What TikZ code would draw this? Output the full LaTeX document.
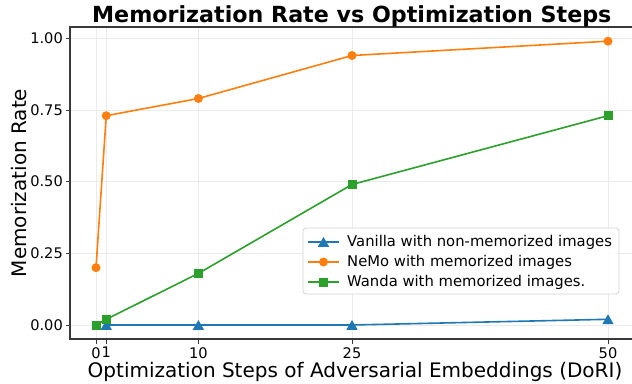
\documentclass[tikz,border=0pt]{standalone}
\usepackage{fontspec}
\setmainfont{DejaVu Sans}
\usetikzlibrary{shapes.geometric}
\definecolor{tabblue}{HTML}{1F77B4}
\definecolor{taborange}{HTML}{FF7F0E}
\definecolor{tabgreen}{HTML}{2CA02C}
\definecolor{gridgray}{HTML}{EBEBEB}
\definecolor{spinegray}{HTML}{3A3A3A}
\begin{document}
\begin{tikzpicture}[x=1pt,y=-1pt,
  ticklbl/.style={font=\fontsize{14.6}{17}\selectfont, inner sep=0pt},
  gridline/.style={draw=gridgray, line width=0.8pt},
  spine/.style={draw=spinegray, line width=1.1pt},
  series/.style={line width=1.6pt},
  mtri/.style={regular polygon, regular polygon sides=3, minimum size=13pt, inner sep=0pt, fill=tabblue},
  mcirc/.style={circle, minimum size=9pt, inner sep=0pt, fill=taborange},
  msq/.style={rectangle, minimum size=9pt, inner sep=0pt, fill=tabgreen},
  legtext/.style={font=\fontsize{14.8}{17}\selectfont, anchor=west, inner sep=0pt}
]
\useasboundingbox (0,0) rectangle (632,383);
\fill[white] (0,0) rectangle (632,383);
% grid
\foreach \d in {0,1,10,25,50} { \draw[gridline] ({96+10.24*\d},27) -- ({96+10.24*\d},339); }
\foreach \v in {0,0.25,0.5,0.75,1} { \draw[gridline] (70,{325-286.7*\v}) -- (634,{325-286.7*\v}); }
% spines
\draw[spine] (634,27) -- (70,27) -- (70,339) -- (634,339);
% x ticks
\foreach \d/\l in {0/0,1/1,10/10,25/25,50/50} {
  \draw[spine, line width=0.9pt] ({96+10.24*\d},339) -- ({96+10.24*\d},343.5);
  \node[ticklbl, anchor=north] (xt\l) at ({96+10.24*\d},347) {\l};
}
% y ticks
\foreach \v/\l [count=\i] in {0/0.00,0.25/0.25,0.5/0.50,0.75/0.75,1/1.00} {
  \draw[spine, line width=0.9pt] (70,{325-286.7*\v}) -- (65.5,{325-286.7*\v});
  \node[ticklbl, anchor=east] (yt\i) at (63,{325-286.7*\v}) {\l};
}
% series: Vanilla
\coordinate (b1) at (106.24,325);
\coordinate (b2) at (198.4,325);
\coordinate (b3) at (352,325);
\coordinate (b4) at (608,319.3);
\draw[series, tabblue] (b1) -- (b2) -- (b3) -- (b4);
\foreach \p in {b1,b2,b3,b4} { \node[mtri] at ([yshift=-1.5pt]\p) {}; }
% NeMo
\coordinate (o0) at (96,267.7);
\coordinate (o1) at (106.24,115.7);
\coordinate (o2) at (198.4,98.5);
\coordinate (o3) at (352,55.5);
\coordinate (o4) at (608,41.2);
\draw[series, taborange] (o0) -- (o1) -- (o2) -- (o3) -- (o4);
\foreach \p in {o0,o1,o2,o3,o4} { \node[mcirc] at (\p) {}; }
% Wanda
\coordinate (g0) at (96,325);
\coordinate (g1) at (106.24,319.3);
\coordinate (g2) at (198.4,273.4);
\coordinate (g3) at (352,184.5);
\coordinate (g4) at (608,115.7);
\draw[series, tabgreen] (g0) -- (g1) -- (g2) -- (g3) -- (g4);
\foreach \p in {g0,g1,g2,g3,g4} { \node[msq] at (\p) {}; }
% legend
\draw[draw=gray!35, fill=white, fill opacity=0.85, rounded corners=3pt, line width=0.8pt] (303,228) rectangle (619,294);
\coordinate (l1a) at (308,242); \coordinate (l1b) at (339,242);
\coordinate (l2a) at (308,262); \coordinate (l2b) at (339,262);
\coordinate (l3a) at (308,282); \coordinate (l3b) at (339,282);
\draw[series, tabblue] (l1a) -- (l1b);
\node[mtri] at ([yshift=-1.5pt]323.5,242) {};
\draw[series, taborange] (l2a) -- (l2b);
\node[mcirc] at (323.5,262) {};
\draw[series, tabgreen] (l3a) -- (l3b);
\node[msq] at (323.5,282) {};
\node[legtext] (lt1) at (347,242) {Vanilla with non-memorized images};
\node[legtext] (lt2) at (347,262) {NeMo with memorized images};
\node[legtext] (lt3) at (347,282) {Wanda with memorized images.};
% labels
\node[font=\fontsize{22.2}{26}\bfseries, anchor=base, inner sep=0pt] (title) at (351.8,22) {Memorization Rate vs Optimization Steps};
\node[font=\fontsize{20}{24}\selectfont, anchor=base, inner sep=0pt] (xlabel) at (355,377) {Optimization Steps of Adversarial Embeddings (DoRI)};
\node[font=\fontsize{20}{24}\selectfont, anchor=base, rotate=90, inner sep=0pt] (ylabel) at (26,183) {Memorization Rate};
\end{tikzpicture}
\end{document}
